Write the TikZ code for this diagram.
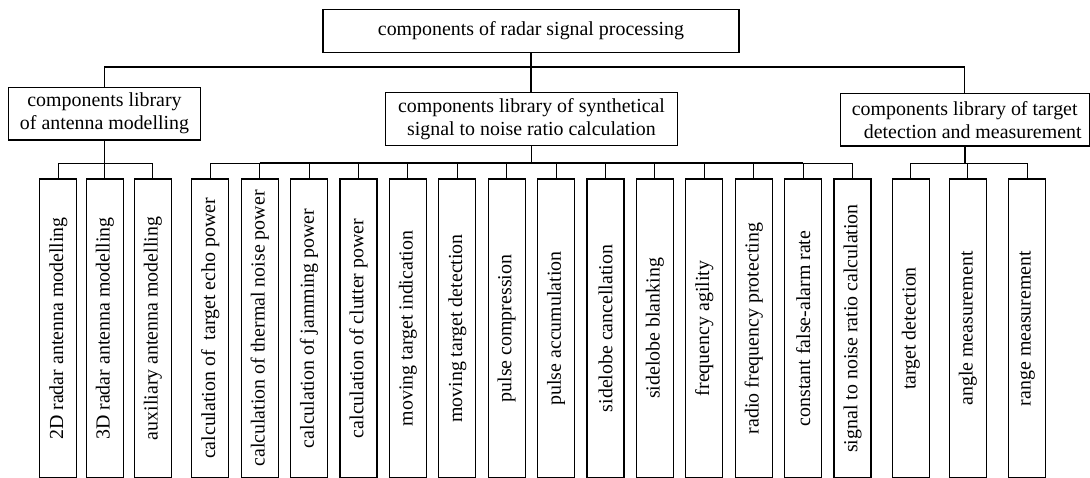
\documentclass[tikz,border=0pt]{standalone}
\usepackage{fontspec}
\setmainfont{Liberation Serif}
\begin{document}
\begin{tikzpicture}[x=1pt,y=-1pt,
  every node/.style={font=\fontsize{19.9}{23}\selectfont},
  box/.style={draw,line width=1.1pt,inner sep=0pt,align=center},
  leaf/.style={draw,line width=1.1pt,inner sep=0pt,minimum width=37pt,minimum height=299pt,rotate=90,anchor=center},
  conn/.style={line width=1.1pt},
  thick conn/.style={line width=1.8pt}]
\useasboundingbox (0,0) rectangle (1090,478);
% top level
\node[box,minimum width=416pt,minimum height=43.5pt] (top) at (531,31) {components of radar signal processing};
\node[box,minimum width=192.4pt,minimum height=52.7pt] (lft) at (104.5,113.7) {components library\\of antenna modelling};
\node[box,minimum width=291.6pt,minimum height=53pt] (mid) at (531.5,119.2) {components library of synthetical\\signal to noise ratio calculation};
\node[box,minimum width=249.3pt,minimum height=52.7pt] (rgt) at (964.7,119.7) {components library of target\\\hspace*{16pt}detection and measurement};
\coordinate (h) at (0,67);
\coordinate (b) at (0,163.3);
\draw[conn] (top.south) -- (top.south |- mid.north);
\draw[conn] (lft.north) -- (lft.north |- h) -- (rgt.north |- h) -- (rgt.north);
% left leaves
\node[leaf,minimum width=299pt,minimum height=37pt] (a1) at (58.3,328.5) {2D radar antenna modelling};
\node[leaf,minimum width=299pt,minimum height=37pt] (a2) at (104.8,328.5) {3D radar antenna modelling};
\node[leaf,minimum width=299pt,minimum height=37pt] (a3) at (152.8,328.5) {auxiliary antenna modelling};
% mid leaves
\foreach \i/\t in {0/{calculation of\ \ target echo power},1/{calculation of thermal noise power},2/{calculation of jamming power},3/{calculation of clutter power},4/{moving target indication},5/{moving target detection},6/{pulse compression},7/{pulse accumulation},8/{sidelobe cancellation},9/{sidelobe blanking},10/{frequency agility},11/{radio frequency protecting},12/{constant false-alarm rate},13/{signal to noise ratio calculation}}{
  \node[leaf,minimum width=299pt,minimum height=37pt] (m\i) at (210.3+49.4*\i,328.5) {\t};
}
% right leaves
\node[leaf,minimum width=299pt,minimum height=37pt] (r1) at (910.8,328.5) {target detection};
\node[leaf,minimum width=299pt,minimum height=37pt] (r2) at (967.8,328.5) {angle measurement};
\node[leaf,minimum width=299pt,minimum height=37pt] (r3) at (1027.2,328.5) {range measurement};
% left connectors
\draw[conn] (lft.south) -- (lft.south |- b);
\draw[conn] (a1.east |- b) -- (a3.east |- b);
\foreach \n in {a1,a2,a3}{\draw[conn] (\n.east) -- (\n.east |- b);}
% mid connectors
\draw[thick conn] (mid.south) -- (mid.south |- b);
\draw[conn] (m0.east |- b) -- (m13.east |- b);
\draw[thick conn] (m1.east |- b) -- (m12.east |- b);
\foreach \i in {0,...,13}{\draw[conn] (m\i.east) -- (m\i.east |- b);}
% right connectors
\draw[thick conn] (rgt.south) -- (rgt.south |- b);
\draw[conn] (r1.east |- b) -- (r3.east |- b);
\foreach \n in {r1,r2,r3}{\draw[conn] (\n.east) -- (\n.east |- b);}
\end{tikzpicture}
\end{document}
